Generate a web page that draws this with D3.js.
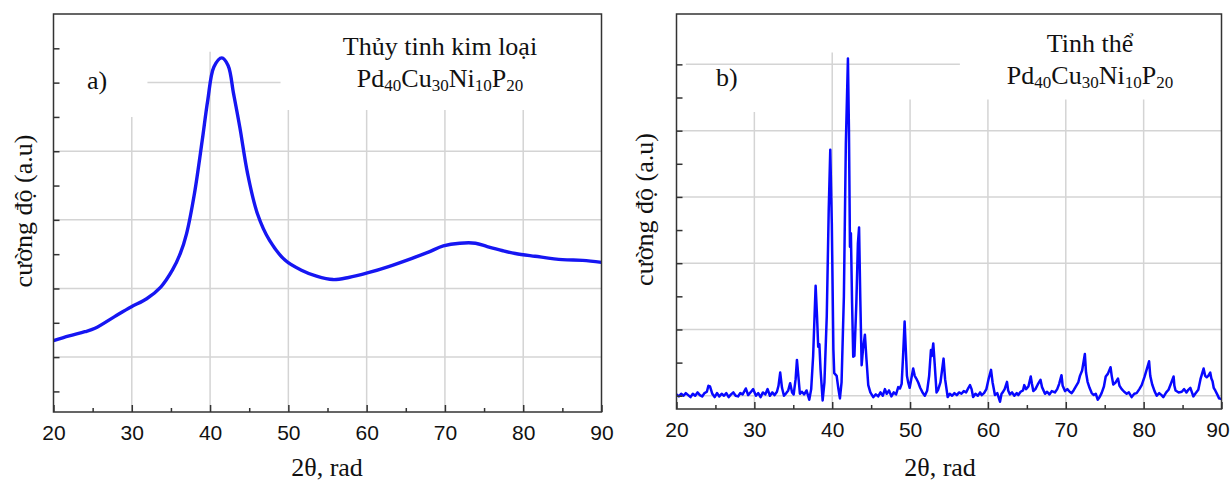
<!DOCTYPE html>
<html>
<head>
	<meta charset="utf-8">
	<style>
		body {
			margin: 0;
			background: #fff;
		}
		.grid line {
			stroke: #d4d4d4;
			stroke-width: 1.5px;
		}
		.frame {
			fill: none;
			stroke: #333;
			stroke-width: 1.5px;
		}
		.axis text {
			font-family: 'Liberation Sans', Arial, sans-serif;
			font-size: 21px;
			fill: #111;
		}
		.axis line {
			stroke: #333;
			stroke-width: 1.5px;
		}
		.label {
			font-family: 'Liberation Serif', 'Times New Roman', serif;
			font-size: 26px;
			fill: #111;
		}
		.scan {
			fill: none;
			stroke-linejoin: round;
			stroke-linecap: round;
		}
	</style>
	<script src="https://d3js.org/d3.v7.min.js"></script>
</head>
<body>
	<script>
		// x axis (2theta) ticks shared by both panels
		var xTicks = [20, 30, 40, 50, 60, 70, 80, 90],
			xMinorTicks = [25, 35, 45, 55, 65, 75, 85],
			xGrid = [30, 40, 50, 60, 70, 80];

		// panel a) : metallic glass, broad amorphous halo
		var glassScan = [
			[20, 1.24], [22, 1.31], [24, 1.37], [25.3, 1.42], [27.8, 1.59],
			[29.9, 1.73], [31.9, 1.85], [33.7, 2.02], [35.2, 2.27], [36.2, 2.51],
			[37, 2.80], [38, 3.38], [39, 4.16], [39.7, 4.74], [40.5, 5.23],
			[41.5, 5.36], [42.3, 5.25], [43, 4.84], [43.8, 4.35], [44.8, 3.67],
			[46.05, 3.09], [47.6, 2.70], [49.6, 2.41], [51.6, 2.27], [53.6, 2.18],
			[55.7, 2.13], [57.7, 2.16], [60.2, 2.23], [62.8, 2.32], [65.8, 2.44],
			[67.9, 2.53], [69.8, 2.62], [71.9, 2.66], [73.9, 2.66], [75.4, 2.61],
			[77.4, 2.55], [79, 2.51], [81.5, 2.47], [85, 2.42], [87.6, 2.41],
			[90, 2.38]
		];

		// panel b) : crystallised alloy, sharp reflections
		var crystalScan = [
			[20.0, 0.02], [20.3, -0.01], [20.6, 0.03], [20.9, 0.0], [21.2, 0.04], [21.5, 0.01],
			[21.8, -0.02], [22.1, 0.03], [22.4, 0.0], [22.7, 0.05], [23.0, 0.01], [23.3, -0.01],
			[23.6, 0.04], [23.9, 0.06], [24.1, 0.15], [24.3, 0.14], [24.6, 0.03], [24.9, -0.02],
			[25.2, 0.04], [25.5, -0.01], [25.8, 0.03], [26.1, 0.0], [26.4, 0.04], [26.7, -0.02],
			[27.0, 0.02], [27.3, 0.05], [27.6, 0.0], [27.9, -0.01], [28.2, 0.04], [28.5, 0.02],
			[28.9, 0.11], [29.2, 0.01], [29.5, 0.05], [29.85, 0.1], [30.2, 0.0], [30.5, 0.04],
			[30.8, -0.02], [31.1, 0.05], [31.4, 0.02], [31.7, 0.1], [32.0, 0.0], [32.3, 0.05],
			[32.6, 0.01], [32.9, 0.06], [33.1, 0.15], [33.32, 0.35], [33.55, 0.12], [33.8, 0.0],
			[34.1, 0.04], [34.35, 0.08], [34.6, 0.19], [34.85, 0.05], [35.05, 0.02], [35.3, 0.25],
			[35.47, 0.54], [35.65, 0.3], [35.85, 0.03], [36.1, 0.06], [36.4, 0.02], [36.7, 0.08],
			[37.05, -0.06], [37.3, 0.1], [37.55, 0.6], [37.87, 1.66], [38.05, 1.2], [38.2, 0.74],
			[38.35, 0.78], [38.5, 0.4], [38.77, -0.07], [39.0, 0.2], [39.3, 1.2], [39.55, 2.8],
			[39.75, 3.71], [39.95, 2.6], [40.15, 0.7], [40.26, 0.34], [40.57, 0.3], [40.8, 0.1],
			[40.99, -0.04], [41.2, 0.2], [41.5, 1.5], [41.75, 3.8], [42.02, 5.09], [42.15, 4.0],
			[42.28, 2.25], [42.4, 2.45], [42.55, 1.4], [42.7, 0.59], [42.85, 0.6], [43.1, 1.4],
			[43.3, 2.3], [43.45, 2.54], [43.6, 1.5], [43.78, 0.46], [43.95, 0.7], [44.2, 0.92],
			[44.4, 0.55], [44.63, 0.16], [44.9, 0.05], [45.27, -0.02], [45.6, 0.02], [45.9, -0.01],
			[46.2, 0.05], [46.5, 0.0], [46.77, 0.1], [47.0, 0.03], [47.3, 0.08], [47.6, -0.01],
			[47.9, 0.05], [48.2, 0.02], [48.48, 0.13], [48.7, 0.11], [48.92, 0.18], [49.1, 0.6],
			[49.3, 1.12], [49.45, 0.7], [49.6, 0.3], [49.76, 0.2], [49.95, 0.12], [50.15, 0.25],
			[50.4, 0.41], [50.6, 0.3], [50.8, 0.26], [51.05, 0.2], [51.3, 0.12], [51.6, 0.05],
			[51.9, 0.0], [52.2, 0.08], [52.45, 0.3], [52.68, 0.69], [52.8, 0.6], [52.98, 0.79],
			[53.15, 0.5], [53.4, 0.05], [53.6, 0.09], [53.9, 0.2], [54.1, 0.38], [54.3, 0.56],
			[54.5, 0.25], [54.83, -0.02], [55.1, 0.03], [55.4, 0.0], [55.7, 0.04], [56.0, 0.01],
			[56.3, 0.05], [56.6, 0.03], [56.9, 0.07], [57.2, 0.05], [57.5, 0.12], [57.7, 0.16],
			[57.9, 0.1], [58.1, -0.02], [58.4, 0.03], [58.7, 0.0], [59.0, 0.05], [59.2, 0.01],
			[59.5, 0.04], [59.8, 0.1], [60.1, 0.26], [60.4, 0.39], [60.6, 0.2], [60.9, 0.01],
			[61.2, 0.04], [61.55, -0.09], [61.75, 0.03], [61.9, 0.05], [62.15, 0.1], [62.45, 0.21],
			[62.6, 0.08], [62.83, 0.02], [63.1, 0.05], [63.4, 0.0], [63.7, 0.04], [63.9, 0.01],
			[64.2, 0.06], [64.5, 0.08], [64.67, 0.16], [64.9, 0.1], [65.2, 0.14], [65.5, 0.29],
			[65.65, 0.18], [65.83, 0.07], [66.1, 0.1], [66.4, 0.17], [66.75, 0.24], [66.95, 0.13],
			[67.33, 0.03], [67.6, 0.06], [67.9, 0.02], [68.2, 0.07], [68.6, 0.05], [68.9, 0.1],
			[69.15, 0.18], [69.45, 0.31], [69.6, 0.15], [69.9, 0.07], [70.2, 0.1], [70.5, 0.06],
			[70.76, 0.04], [71.0, 0.08], [71.3, 0.14], [71.6, 0.2], [71.82, 0.3], [72.1, 0.38],
			[72.45, 0.63], [72.6, 0.35], [72.8, 0.21], [73.05, 0.12], [73.33, 0.04], [73.6, 0.01],
			[73.85, 0.03], [74.1, -0.06], [74.35, -0.02], [74.6, 0.04], [74.9, 0.14], [75.13, 0.29],
			[75.4, 0.33], [75.75, 0.43], [75.9, 0.3], [76.1, 0.17], [76.4, 0.2], [76.7, 0.26],
			[76.9, 0.15], [77.18, 0.1], [77.5, 0.06], [77.82, 0.03], [78.1, 0.05], [78.46, -0.02],
			[78.8, 0.03], [79.1, 0.04], [79.45, 0.1], [79.75, 0.16], [80.1, 0.28], [80.35, 0.38],
			[80.7, 0.52], [80.85, 0.3], [81.1, 0.17], [81.4, 0.07], [81.68, 0.0], [82.0, 0.04],
			[82.3, 0.01], [82.53, -0.02], [82.9, 0.05], [83.2, 0.09], [83.5, 0.18], [83.85, 0.29],
			[83.95, 0.15], [84.1, 0.08], [84.5, 0.05], [84.9, 0.06], [85.2, 0.1], [85.5, 0.05],
			[85.74, 0.09], [86.0, 0.12], [86.38, -0.01], [86.7, 0.04], [87.02, 0.09], [87.3, 0.25],
			[87.7, 0.41], [87.9, 0.3], [88.1, 0.28], [88.3, 0.3], [88.55, 0.35], [88.7, 0.26],
			[88.85, 0.22], [89.0, 0.12], [89.2, 0.08], [89.45, 0.02], [89.69, -0.04], [90.0, -0.05]
		];

		var yTitle = 'cường độ (a.u)',
			xTitle = '2θ, rad',
			formula = [['Pd', '40'], ['Cu', '30'], ['Ni', '10'], ['P', '20']];

		var panels = [
			{
				tag: 'a)', title: 'Thủy tinh kim loại', scan: glassScan,
				left: 53.5, right: 601.5, top: 14, bottom: 412,
				yDomain: [0.2, 6], yTicks: d3.range(0.5, 5.6, 0.5), yGrid: [1, 2, 3, 4],
				topGrid: {y: 5, from: 32, to: 49}, vGridTop: {30: 4.5, 40: 5.45}, vGridDefault: 4.6,
				curve: d3.curveCatmullRom.alpha(0.5), color: '#1616f2', width: 3.4,
				tagX: 87, tagY: 89, textX: 440, textY: 55, yTitleX: 32, xTitleX: 327, lastDx: 0
			},
			{
				tag: 'b)', title: 'Tinh thể', scan: crystalScan,
				left: 676.5, right: 1221.5, top: 14, bottom: 409,
				yDomain: [-0.2, 5.76], yTicks: d3.range(0, 5.1, 0.5), yGrid: [0, 1, 2, 3, 4],
				topGrid: {y: 5, from: 21.2, to: 56.4}, vGridTop: {30: 4.28, 40: 5.18}, vGridDefault: 4.47,
				curve: d3.curveLinear, color: '#0808ff', width: 2.5,
				tagX: 716, tagY: 86, textX: 1090, textY: 52, yTitleX: 653, xTitleX: 940, lastDx: -4
			}
		];

		var svg = d3.select('body').append('svg')
			.attr('width', 1230)
			.attr('height', 483);

		function draw_panel(p, i) {
			var x = d3.scaleLinear().domain([20, 90]).range([p.left, p.right]),
				y = d3.scaleLinear().domain(p.yDomain).range([p.bottom, p.top]);

			var g = svg.append('g');

			// gridlines, partly hidden behind the caption like in the original
			var grid = g.append('g').attr('class', 'grid');
			grid.selectAll('line.v').data(xGrid).join('line')
				.attr('class', 'v')
				.attr('x1', d => x(d)).attr('x2', d => x(d))
				.attr('y1', p.bottom)
				.attr('y2', d => y(p.vGridTop[d] || p.vGridDefault));
			grid.selectAll('line.h').data(p.yGrid).join('line')
				.attr('class', 'h')
				.attr('x1', p.left).attr('x2', p.right)
				.attr('y1', d => y(d)).attr('y2', d => y(d));
			grid.append('line')
				.attr('x1', x(p.topGrid.from)).attr('x2', x(p.topGrid.to))
				.attr('y1', y(p.topGrid.y)).attr('y2', y(p.topGrid.y));

			// scan
			g.append('clipPath').attr('id', 'clip' + i)
				.append('rect')
				.attr('x', p.left).attr('y', p.top)
				.attr('width', p.right - p.left).attr('height', p.bottom - p.top);

			var line = d3.line()
				.x(d => x(d[0]))
				.y(d => y(d[1]))
				.curve(p.curve);

			g.append('path')
				.datum(p.scan)
				.attr('class', 'scan')
				.attr('clip-path', 'url(#clip' + i + ')')
				.attr('stroke', p.color)
				.attr('stroke-width', p.width)
				.attr('d', line);

			// axes
			var ax = g.append('g')
				.attr('class', 'axis')
				.attr('transform', 'translate(0,' + p.bottom + ')')
				.call(d3.axisBottom(x).tickValues(xTicks).tickSize(-7).tickPadding(13));
			ax.attr('font-size', null).attr('font-family', null);
			ax.select('.domain').remove();
			ax.selectAll('text').filter(d => d === 90).attr('dx', p.lastDx);

			g.append('g')
				.attr('class', 'axis')
				.attr('transform', 'translate(0,' + p.bottom + ')')
				.call(d3.axisBottom(x).tickValues(xMinorTicks).tickSize(-4).tickFormat(''))
				.call(s => s.select('.domain').remove());

			g.append('g')
				.attr('class', 'axis')
				.attr('transform', 'translate(' + p.left + ',0)')
				.call(d3.axisLeft(y).tickValues(p.yTicks).tickSize(-6).tickFormat(''))
				.call(s => s.select('.domain').remove());

			g.append('rect')
				.attr('class', 'frame')
				.attr('x', p.left).attr('y', p.top)
				.attr('width', p.right - p.left).attr('height', p.bottom - p.top);

			// captions
			g.append('text').attr('class', 'label')
				.attr('x', p.tagX).attr('y', p.tagY)
				.text(p.tag);

			g.append('text').attr('class', 'label')
				.attr('x', p.textX).attr('y', p.textY)
				.attr('text-anchor', 'middle')
				.text(p.title);

			var f = g.append('text').attr('class', 'label')
				.attr('x', p.textX).attr('y', p.textY + 32)
				.attr('text-anchor', 'middle');
			formula.forEach(function(el, k) {
				f.append('tspan').attr('dy', k ? -4 : 0).text(el[0]);
				f.append('tspan').attr('dy', 4).attr('font-size', 17).text(el[1]);
			});

			g.append('text').attr('class', 'label')
				.attr('transform', 'translate(' + p.yTitleX + ',' + ((p.top + p.bottom) / 2 - 2) + ') rotate(-90)')
				.attr('text-anchor', 'middle')
				.text(yTitle);

			g.append('text').attr('class', 'label')
				.attr('x', p.xTitleX).attr('y', 476)
				.attr('text-anchor', 'middle')
				.text(xTitle);
		}

		panels.forEach(draw_panel);
	</script>
</body>
</html>
